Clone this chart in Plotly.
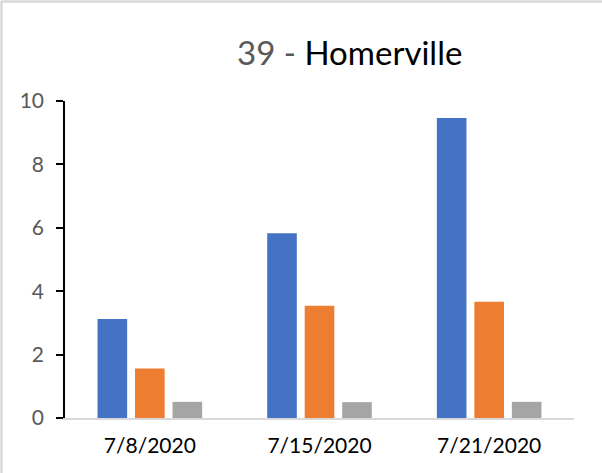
import plotly.graph_objects as go

# Dates on the category axis
dates = ["7/8/2020", "7/15/2020", "7/21/2020"]

# Three series per date
series_a = [3.12, 5.83, 9.46]
series_b = [1.56, 3.54, 3.67]
series_c = [0.51, 0.50, 0.51]

y_ticks = [0, 2, 4, 6, 8, 10]

colors = ["#4472C4", "#ED7D31", "#A5A5A5"]
FONT = "Lato, Calibri, 'Open Sans', sans-serif"

fig = go.Figure()
for vals, col in zip([series_a, series_b, series_c], colors):
    fig.add_trace(go.Bar(x=dates, y=vals, marker=dict(color=col, line=dict(width=0)),
                         showlegend=False, hoverinfo="x+y"))

# Margins in pixels
W, H = 602, 473
ML, MR, MT, MB = 65, 28, 101, 55
pw = W - ML - MR
ph = H - MT - MB

def px_x(px):
    return (px - ML) / pw

def px_y(py):
    return (H - MB - py) / ph

fig.update_layout(
    width=W, height=H,
    margin=dict(l=ML, r=MR, t=MT, b=MB, pad=0),
    paper_bgcolor="white", plot_bgcolor="white",
    barmode="group", bargap=0.337, bargroupgap=0.21,
    font=dict(family=FONT),
    xaxis=dict(
        type="category", showgrid=False, zeroline=False,
        showline=True, linecolor="#D9D9D9", linewidth=1.5,
        ticks="", tickfont=dict(size=21, color="#000000"),
        ticklabelstandoff=8,
    ),
    yaxis=dict(
        range=[0, 10], tickvals=y_ticks, showgrid=False, zeroline=False,
        showline=True, linecolor="#000000", linewidth=1.5,
        ticks="outside", ticklen=7, tickwidth=1.5, tickcolor="#000000",
        tickfont=dict(size=21, color="#595959"),
        ticklabelstandoff=8,
    ),
    yaxis2=dict(
        overlaying="y", side="left", anchor="x", range=[0, 10], tickvals=y_ticks,
        showgrid=False, zeroline=False, showline=False,
        ticks="inside", ticklen=7, tickwidth=1.5, tickcolor="#000000",
        showticklabels=False,
    ),
    annotations=[dict(
        text="<span style='color:#595959'>39 - </span>Homerville",
        x=px_x(349), y=px_y(52), xref="paper", yref="paper",
        xanchor="center", yanchor="middle", showarrow=False,
        font=dict(size=33, color="#000000", family=FONT),
    )],
    shapes=[
        # light frame along the top and left edges of the chart area
        dict(type="line", xref="paper", yref="paper", x0=px_x(1), x1=px_x(W + 5),
             y0=px_y(1.5), y1=px_y(1.5), line=dict(color="#D9D9D9", width=2.5)),
        dict(type="line", xref="paper", yref="paper", x0=px_x(1.5), x1=px_x(1.5),
             y0=px_y(1), y1=px_y(H + 5), line=dict(color="#D9D9D9", width=2.5)),
    ],
)

fig.write_html("out.html", config={"displayModeBar": False})
